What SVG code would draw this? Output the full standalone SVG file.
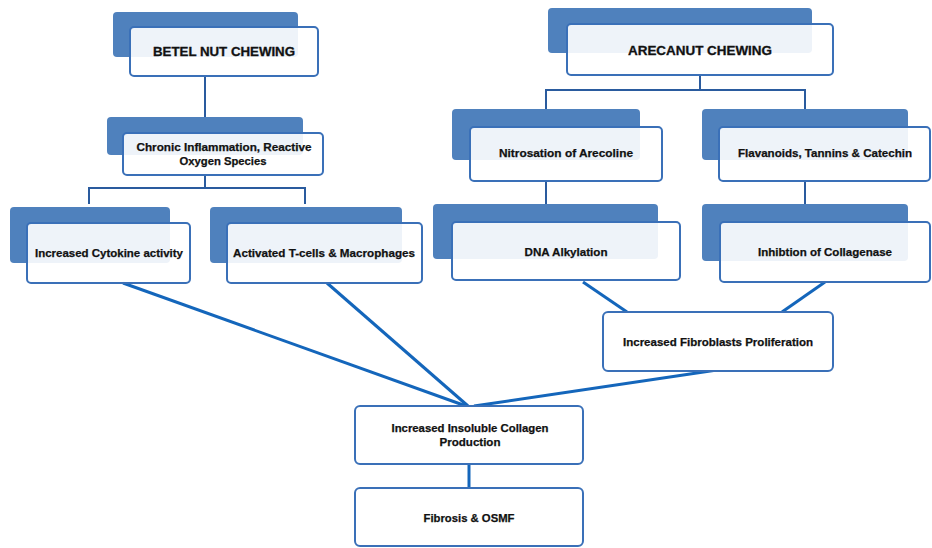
<svg xmlns="http://www.w3.org/2000/svg" width="932" height="548" viewBox="0 0 932 548">
<style>
.back{fill:#4f81bd;}
.front{fill:#ffffff;fill-opacity:0.9;stroke:#3a70b8;stroke-width:2;}
.box{fill:#ffffff;stroke:#3a70b8;stroke-width:2;}
.t{font-family:"Liberation Sans",Arial,sans-serif;font-weight:bold;font-size:11px;fill:#111;text-anchor:middle;stroke:#111;stroke-width:0.25;}
.tb{font-family:"Liberation Sans",Arial,sans-serif;font-weight:bold;font-size:12.5px;fill:#111;text-anchor:middle;stroke:#111;stroke-width:0.3;}
.tree{fill:none;stroke:#2a5b9e;stroke-width:2;}
.diag{fill:none;stroke:#1466bb;stroke-width:3;}
</style>
<rect width="932" height="548" fill="#ffffff"/>
<g id="connectors">
<path class="tree" d="M205,76 V117"/>
<path class="tree" d="M205,175 V188 M89,204 V188 H305 V204"/>
<path class="tree" d="M700,75 V90 M546,109 V90 H805 V109"/>
<path class="tree" d="M546,181 V204"/>
<path class="tree" d="M805,181 V204"/>
<path class="diag" d="M469,464 V488"/>
<path class="diag" d="M123,283 L466,406"/>
<path class="diag" d="M327,283 L468,406"/>
<path class="diag" d="M717,370 L474,406"/>
<path class="diag" d="M583,282 L627,312"/>
<path class="diag" d="M825,282 L782,312"/>
</g>
<g id="betel">
<rect class="back" x="113" y="12" width="185" height="45" rx="4"/>
<rect class="front" x="130" y="27" width="188" height="49" rx="4"/>
<text class="tb" x="224" y="56" textLength="142" lengthAdjust="spacingAndGlyphs">BETEL NUT CHEWING</text>
</g>
<g id="arecanut">
<rect class="back" x="548" y="8" width="264" height="45" rx="4"/>
<rect class="front" x="567" y="24" width="266" height="51" rx="4"/>
<text class="tb" x="700" y="55" textLength="144" lengthAdjust="spacingAndGlyphs">ARECANUT CHEWING</text>
</g>
<g id="chronic">
<rect class="back" x="107" y="117" width="196" height="38" rx="4"/>
<rect class="front" x="123" y="133" width="200" height="42" rx="4"/>
<text class="t" x="224" y="151" textLength="175" lengthAdjust="spacingAndGlyphs">Chronic Inflammation, Reactive</text>
<text class="t" x="223" y="165" textLength="87" lengthAdjust="spacingAndGlyphs">Oxygen Species</text>
</g>
<g id="cytokine">
<rect class="back" x="10" y="207" width="160" height="56" rx="4"/>
<rect class="front" x="27" y="223" width="163" height="60" rx="4"/>
<text class="t" x="109" y="257" textLength="148" lengthAdjust="spacingAndGlyphs">Increased Cytokine activity</text>
</g>
<g id="activated">
<rect class="back" x="210" y="207" width="192" height="56" rx="4"/>
<rect class="front" x="227" y="223" width="195" height="60" rx="4"/>
<text class="t" x="324" y="257" textLength="182" lengthAdjust="spacingAndGlyphs">Activated T-cells &amp; Macrophages</text>
</g>
<g id="nitrosation">
<rect class="back" x="452" y="109" width="188" height="51" rx="4"/>
<rect class="front" x="470" y="127" width="192" height="54" rx="4"/>
<text class="t" x="566" y="157" textLength="134" lengthAdjust="spacingAndGlyphs">Nitrosation of Arecoline</text>
</g>
<g id="flavanoids">
<rect class="back" x="702" y="109" width="206" height="51" rx="4"/>
<rect class="front" x="719" y="127" width="211" height="54" rx="4"/>
<text class="t" x="825" y="157" textLength="174" lengthAdjust="spacingAndGlyphs">Flavanoids, Tannins &amp; Catechin</text>
</g>
<g id="dna">
<rect class="back" x="433" y="204" width="225" height="55" rx="4"/>
<rect class="front" x="452" y="222" width="228" height="58" rx="4"/>
<text class="t" x="566" y="256" textLength="83" lengthAdjust="spacingAndGlyphs">DNA Alkylation</text>
</g>
<g id="inhibtion">
<rect class="back" x="702" y="204" width="206" height="57" rx="4"/>
<rect class="front" x="720" y="222" width="210" height="60" rx="4"/>
<text class="t" x="825" y="256" textLength="134" lengthAdjust="spacingAndGlyphs">Inhibtion of Collagenase</text>
</g>
<g id="fibroblasts">
<rect class="box" x="603" y="312" width="230" height="59" rx="5"/>
<text class="t" x="718" y="346" textLength="190" lengthAdjust="spacingAndGlyphs">Increased Fibroblasts Proliferation</text>
</g>
<g id="collagen">
<rect class="box" x="355" y="406" width="228" height="58" rx="5"/>
<text class="t" x="470" y="432" textLength="157" lengthAdjust="spacingAndGlyphs">Increased Insoluble Collagen</text>
<text class="t" x="470" y="446" textLength="61" lengthAdjust="spacingAndGlyphs">Production</text>
</g>
<g id="fibrosis">
<rect class="box" x="355" y="488" width="228" height="58" rx="5"/>
<text class="t" x="469" y="522" textLength="91" lengthAdjust="spacingAndGlyphs">Fibrosis &amp; OSMF</text>
</g>
</svg>
